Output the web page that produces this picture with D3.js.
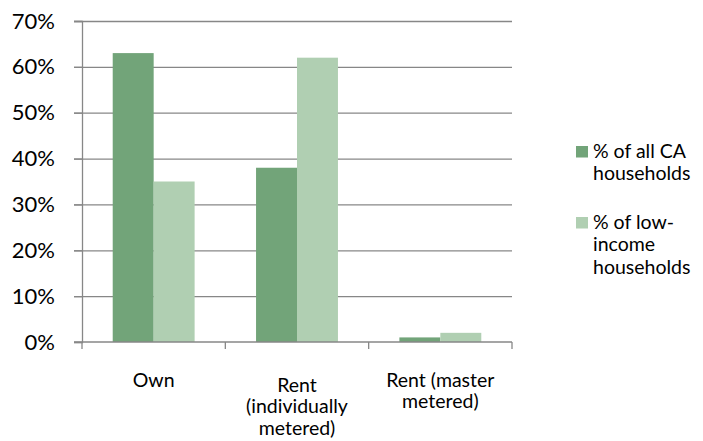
<!DOCTYPE html>
<html>
<head>
<meta charset="utf-8">
<script src="https://cdn.jsdelivr.net/npm/d3@7"></script>
<style>
  body { margin: 0; background: #fff; }
  text { font-family: Lato, "Open Sans", sans-serif; fill: #000; }
</style>
</head>
<body>
<div id="chart"></div>
<script>
var width = 703,
    height = 441;

// data
var categories = [["Own"], ["Rent", "(individually", "metered)"], ["Rent (master", "metered)"]];
var seriesNames = [["% of all CA", "households"], ["% of low-", "income", "households"]];
var allHouseholds = [63, 38, 1];
var lowIncome = [35, 62, 2];
var yTicks = [0, 10, 20, 30, 40, 50, 60, 70];
var colors = ["#72a479", "#b0cfb2"];

var margin = {left: 82, right: 191, top: 21, bottom: 99};

var svg = d3.select("#chart").append("svg")
    .attr("width", width)
    .attr("height", height);

var x = d3.scaleBand()
    .domain(d3.range(categories.length))
    .range([margin.left, width - margin.right]);

var inner = d3.scaleBand()
    .domain([0, 1])
    .range([0, x.bandwidth()])
    .paddingOuter(0.75)
    .paddingInner(0);

var y = d3.scaleLinear()
    .domain([0, 70])
    .range([height - margin.bottom, margin.top]);

// gridlines
svg.append("g").selectAll("line")
    .data(yTicks.slice(1))
  .enter().append("line")
    .attr("x1", margin.left - 8)
    .attr("x2", width - margin.right)
    .attr("y1", d => y(d) + 0.5)
    .attr("y2", d => y(d) + 0.5)
    .attr("stroke", "#878787")
    .attr("stroke-width", 1.3);

// bars
var series = [allHouseholds, lowIncome];
series.forEach(function(vals, si) {
  svg.append("g").selectAll("rect")
      .data(vals)
    .enter().append("rect")
      .attr("x", (d, i) => x(i) + inner(si))
      .attr("width", inner.bandwidth())
      .attr("y", d => y(d))
      .attr("height", d => y(0) - y(d))
      .attr("fill", colors[si]);
});

// y axis
var yAxis = svg.append("g")
    .attr("transform", "translate(" + margin.left + ",0)")
    .call(d3.axisLeft(y).tickValues(yTicks).tickSize(8).tickFormat(d => d + "%"));
yAxis.select(".domain").attr("stroke", "#878787").attr("stroke-width", 1.3);
yAxis.selectAll(".tick line").attr("stroke", "#878787").attr("stroke-width", 1.3);
yAxis.selectAll(".tick text")
    .attr("x", -27)
    .attr("font-size", 22)
    .attr("font-family", "Lato, sans-serif");

// x axis
var xAxis = svg.append("g")
    .attr("transform", "translate(0," + (height - margin.bottom) + ")");
xAxis.append("line")
    .attr("x1", margin.left - 8)
    .attr("x2", width - margin.right)
    .attr("stroke", "#878787")
    .attr("stroke-width", 1.3);
xAxis.selectAll(".xt")
    .data(d3.range(categories.length + 1))
  .enter().append("line")
    .attr("x1", i => i < categories.length ? x(i) : x(i - 1) + x.bandwidth())
    .attr("x2", i => i < categories.length ? x(i) : x(i - 1) + x.bandwidth())
    .attr("y1", 0)
    .attr("y2", 7)
    .attr("stroke", "#878787")
    .attr("stroke-width", 1.3);

var labels = xAxis.selectAll(".xl")
    .data(categories)
  .enter().append("text")
    .attr("text-anchor", "middle")
    .attr("font-size", 19.5)
    .attr("y", d => d.length > 2 ? 49.5 : 44.5);
labels.selectAll("tspan")
    .data((d, i) => d.map(t => ({t: t, i: i})))
  .enter().append("tspan")
    .attr("x", d => x(d.i) + x.bandwidth() / 2)
    .attr("dy", (d, j) => j ? 21.8 : 0)
    .text(d => d.t);

// legend
var legend = svg.append("g")
    .attr("transform", "translate(576,146)");
var items = legend.selectAll("g")
    .data(seriesNames)
  .enter().append("g")
    .attr("transform", (d, i) => "translate(0," + (i * 71) + ")");
items.append("rect")
    .attr("width", 12)
    .attr("height", 11.5)
    .attr("fill", (d, i) => colors[i]);
items.append("text")
    .attr("font-size", 19.5)
    .attr("y", 11.5)
  .selectAll("tspan")
    .data(d => d)
  .enter().append("tspan")
    .attr("x", 17)
    .attr("dy", (d, j) => j ? 22.8 : 0)
    .text(d => d);
</script>
</body>
</html>
